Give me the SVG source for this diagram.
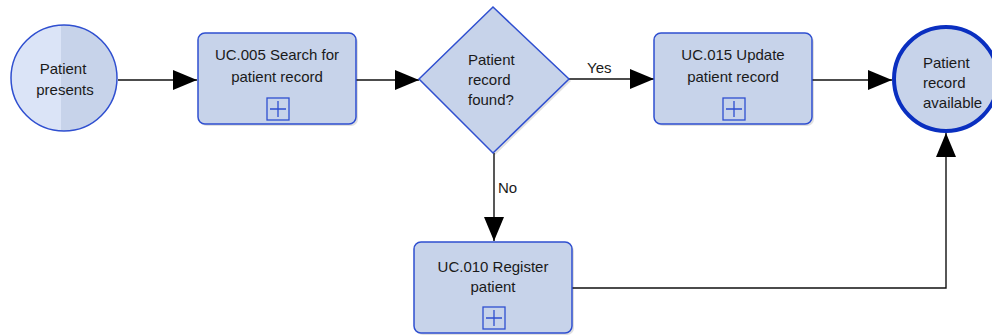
<svg xmlns="http://www.w3.org/2000/svg" width="992" height="336" viewBox="0 0 992 336">
  <style>
    .lbl { font-family: "Liberation Sans", Arial, sans-serif; font-size: 15px; fill: #1a1a1a; }
    .mid { text-anchor: middle; }
    .task { fill: #c7d3ea; stroke: #2f4fd0; stroke-width: 1.5; }
    .shadow { fill: #000; opacity: 0.12; }
    .plus { fill: none; stroke: #2f4fd0; stroke-width: 1.3; }
    .flow { fill: none; stroke: #111; stroke-width: 1.4; }
  </style>
  <defs>
    <marker id="arrow" markerUnits="userSpaceOnUse" markerWidth="26" markerHeight="22" refX="24" refY="10" orient="auto">
      <path d="M0,0 L24,10 L0,20 Z" fill="#000"/>
    </marker>
    <clipPath id="rightHalf">
      <rect x="61" y="0" width="80" height="200"/>
    </clipPath>
  </defs>

  <rect width="992" height="336" fill="#fff"/>

  <!-- sequence flows -->
  <g id="connectors">
    <path class="flow" d="M118,80 L197,80" marker-end="url(#arrow)"/>
    <path class="flow" d="M356,80 L419,80" marker-end="url(#arrow)"/>
    <path class="flow" d="M569,79 L654,79" marker-end="url(#arrow)"/>
    <path class="flow" d="M494,153 L494,241" marker-end="url(#arrow)"/>
    <path class="flow" d="M812,80 L892,80" marker-end="url(#arrow)"/>
    <path class="flow" d="M572,288 L946,288 L946,133" marker-end="url(#arrow)"/>
    <text class="lbl" x="587" y="73">Yes</text>
    <text class="lbl" x="498" y="193">No</text>
  </g>

  <!-- start event -->
  <g id="start">
    <circle cx="64" cy="78" r="53" fill="#dbe4f7"/>
    <circle cx="64" cy="78" r="53" fill="#c7d3ea" clip-path="url(#rightHalf)"/>
    <circle cx="64" cy="78" r="53" fill="none" stroke="#2f4fd0" stroke-width="1.5"/>
    <text class="lbl mid" x="63" y="74">Patient</text>
    <text class="lbl mid" x="65" y="95">presents</text>
  </g>

  <!-- sub-process: search -->
  <g id="search">
    <rect class="shadow" x="200" y="35" width="158" height="91" rx="7"/>
    <rect class="task" x="198" y="33" width="158" height="91" rx="7"/>
    <text class="lbl mid" x="277" y="60">UC.005 Search for</text>
    <text class="lbl mid" x="277" y="82">patient record</text>
    <rect class="plus" x="267" y="98" width="22" height="22"/>
    <path class="plus" d="M278,101 L278,117 M270,109 L286,109"/>
  </g>

  <!-- gateway -->
  <g id="found">
    <path d="M421,81 L495,9 L571,81 L495,155 Z" class="shadow"/>
    <path d="M419,79 L493,7 L569,79 L493,153 Z" fill="#c7d3ea" stroke="#2f4fd0" stroke-width="1.5"/>
    <text class="lbl" x="468" y="65">Patient</text>
    <text class="lbl" x="468" y="85">record</text>
    <text class="lbl" x="468" y="105">found?</text>
  </g>

  <!-- sub-process: update -->
  <g id="update">
    <rect class="shadow" x="656" y="35" width="158" height="91" rx="7"/>
    <rect class="task" x="654" y="33" width="158" height="91" rx="7"/>
    <text class="lbl mid" x="733" y="60">UC.015 Update</text>
    <text class="lbl mid" x="733" y="82">patient record</text>
    <rect class="plus" x="723" y="98" width="22" height="22"/>
    <path class="plus" d="M734,101 L734,117 M726,109 L742,109"/>
  </g>

  <!-- sub-process: register -->
  <g id="register">
    <rect class="shadow" x="416" y="244" width="158" height="91" rx="7"/>
    <rect class="task" x="414" y="242" width="158" height="91" rx="7"/>
    <text class="lbl mid" x="493" y="272">UC.010 Register</text>
    <text class="lbl mid" x="493" y="292">patient</text>
    <rect class="plus" x="483" y="307" width="22" height="22"/>
    <path class="plus" d="M494,310 L494,326 M486,318 L502,318"/>
  </g>

  <!-- end event -->
  <g id="end">
    <circle cx="946" cy="79" r="52" fill="#c7d3ea" stroke="#0a2fc0" stroke-width="4"/>
    <text class="lbl" x="923" y="68">Patient</text>
    <text class="lbl" x="923" y="88">record</text>
    <text class="lbl" x="923" y="108">available</text>
  </g>
</svg>
